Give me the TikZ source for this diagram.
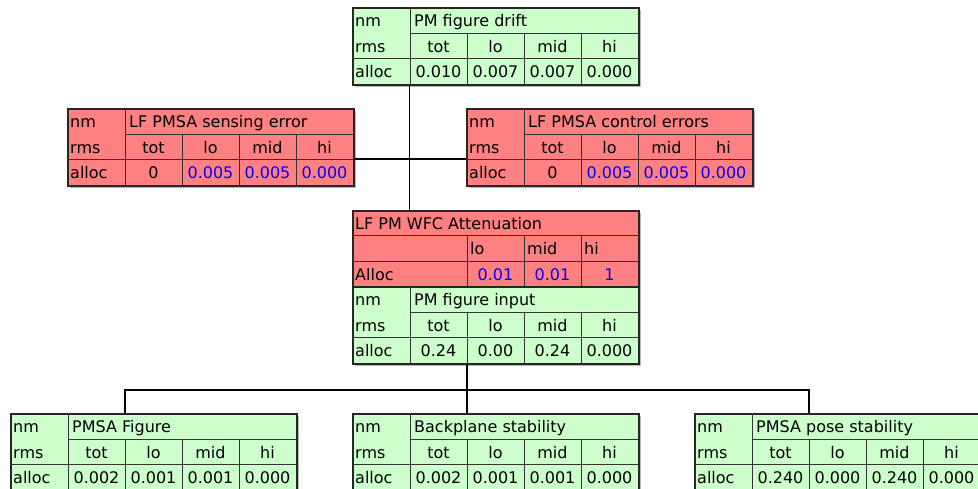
\documentclass[tikz,border=0pt]{standalone}
\usepackage{fontspec}
\setmainfont{DejaVu Sans}
\usetikzlibrary{calc, shadows}
\definecolor{cellgreen}{RGB}{204,255,204}
\definecolor{cellred}{RGB}{255,128,128}
\tikzset{box/.style = {draw=black!85, line width=1.6pt, anchor=north west, minimum width=286pt, minimum height=77pt, inner sep=0pt, drop shadow={shadow xshift=2pt, shadow yshift=-2pt, fill=black!35, opacity=.8}}}
\tikzset{grid/.style = {line width=.8pt, draw=black!80}}
\tikzset{lbl/.style = {anchor=base west, inner sep=0pt}}
\tikzset{hdr/.style = {anchor=base, inner sep=0pt}}
\tikzset{link/.style = {line width=1.8pt, black}}
\tikzset{greencell/.style = {fill=cellgreen}, redcell/.style = {fill=cellred}}
\tikzset{greenval/.style = {}, redval/.style = {text=blue}}

\newcommand{\rmstable}[8]{%
\begin{scope}[shift={(#2)}]
\node[box, #3cell] (#1) at (0,0) {};
\draw[grid] (58,26) -- (286,26) (0,51) -- (286,51) (58,0) -- (58,77);
\foreach \x in {115,172,229} \draw[grid] (\x,26) -- (\x,77);
\node[lbl] (#1-nm) at (3,19.5) {nm};
\node[lbl] (#1-rms) at (3,45) {rms};
\node[lbl] (#1-alloc) at (3,70.5) {alloc};
\node[lbl] (#1-title) at (62,19.5) {#4};
\node[hdr] (#1-tot) at (86.5,45) {tot};
\node[hdr] (#1-lo) at (143.5,45) {lo};
\node[hdr] (#1-mid) at (200.5,45) {mid};
\node[hdr] (#1-hi) at (257.5,45) {hi};
\node[hdr] (#1-vtot) at (86.5,70.5) {#5};
\node[hdr, #3val] (#1-vlo) at (143.5,70.5) {#6};
\node[hdr, #3val] (#1-vmid) at (200.5,70.5) {#7};
\node[hdr, #3val] (#1-vhi) at (257.5,70.5) {#8};
\coordinate (#1-row) at (0,51);
\end{scope}}

\begin{document}
\begin{tikzpicture}[x=1pt, y=-1pt, font=\fontsize{16}{19}\selectfont]
\useasboundingbox (0,0) rectangle (978,488);
\clip (0,0) rectangle (978,488);

\rmstable{drift}{352,7}{green}{PM figure drift}{0.010}{0.007}{0.007}{0.000}
\rmstable{sense}{67,108}{red}{LF PMSA sensing error}{0}{0.005}{0.005}{0.000}
\rmstable{ctrl}{466,108}{red}{LF PMSA control errors}{0}{0.005}{0.005}{0.000}

\begin{scope}[shift={(352,210)}]
\node[box, redcell, minimum height=76pt] (wfc) at (0,0) {};
\draw[grid] (0,25) -- (286,25) (0,51) -- (286,51);
\foreach \x in {115,172,229} \draw[grid] (\x,25) -- (\x,76);
\node[lbl] (wfc-title) at (3,19) {LF PM WFC Attenuation};
\node[lbl] (wfc-lo) at (118,44.5) {lo};
\node[lbl] (wfc-mid) at (175,44.5) {mid};
\node[lbl] (wfc-hi) at (232,44.5) {hi};
\node[lbl] (wfc-alloc) at (3,70) {Alloc};
\node[hdr, redval] (wfc-vlo) at (143.5,70) {0.01};
\node[hdr, redval] (wfc-vmid) at (200.5,70) {0.01};
\node[hdr, redval] (wfc-vhi) at (257.5,70) {1};
\end{scope}

\rmstable{input}{352,286}{green}{PM figure input}{0.24}{0.00}{0.24}{0.000}

\rmstable{pmsafig}{10,413}{green}{PMSA Figure}{0.002}{0.001}{0.001}{0.000}
\rmstable{backplane}{352,413}{green}{Backplane stability}{0.002}{0.001}{0.001}{0.000}
\rmstable{pose}{694,413}{green}{PMSA pose stability}{0.240}{0.000}{0.240}{0.000}

\draw[link] ($(drift.south west)!.2!(drift.south east)$) -- ($(wfc.north west)!.2!(wfc.north east)$);
\draw[link] (sense-row -| sense.east) -- (ctrl-row -| ctrl.west);

\coordinate (bus) at ($(input.south west)!.4!(input.south east) + (0,25)$);
\draw[link] ($(input.south west)!.4!(input.south east)$) -- (bus);
\draw[link] ($(pmsafig.north west)!.4!(pmsafig.north east)$) |- (bus) -| ($(pose.north west)!.4!(pose.north east)$);
\draw[link] (bus) -- ($(backplane.north west)!.4!(backplane.north east)$);
\end{tikzpicture}
\end{document}
